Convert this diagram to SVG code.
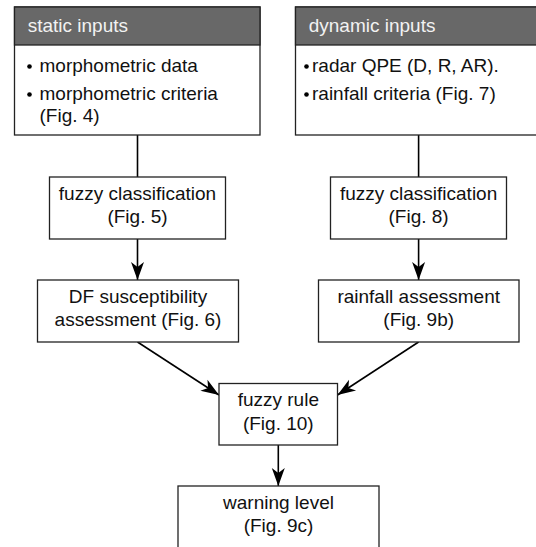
<svg xmlns="http://www.w3.org/2000/svg" width="536" height="547" viewBox="0 0 536 547">
<style>
.box{fill:#ffffff;stroke:#222;stroke-width:1.3}
.hdr{fill:#686868;stroke:#222;stroke-width:1.3}
.t{font-family:"Liberation Sans",Arial,Helvetica,sans-serif;font-size:19px;fill:#111}
.c{text-anchor:middle}
.h{font-family:"Liberation Sans",Arial,Helvetica,sans-serif;font-size:19px;fill:#f2f2f2}
.ln{stroke:#000;stroke-width:1.6;fill:none}
.b{fill:#000}
</style>
<defs>
<marker id="arr" markerUnits="userSpaceOnUse" markerWidth="20" markerHeight="16" viewBox="-19 -8 20 16" refX="0" refY="0" orient="auto">
<path d="M0,0 L-18,-6.5 L-13,0 L-18,6.5 Z" fill="#000"/>
</marker>
</defs>
<g id="connectors">
<line class="ln" x1="137.5" y1="135" x2="137.5" y2="177"/>
<line class="ln" x1="418.6" y1="135" x2="418.6" y2="177"/>
<line class="ln" x1="137.5" y1="239" x2="137.5" y2="280" marker-end="url(#arr)"/>
<line class="ln" x1="418.6" y1="239" x2="418.6" y2="280" marker-end="url(#arr)"/>
<line class="ln" x1="137.5" y1="342" x2="219" y2="395" marker-end="url(#arr)"/>
<line class="ln" x1="418.6" y1="342" x2="337.5" y2="395" marker-end="url(#arr)"/>
<line class="ln" x1="278.3" y1="445" x2="278.3" y2="486" marker-end="url(#arr)"/>
</g>
<g id="static-inputs">
<rect class="box" x="14.5" y="7" width="245.5" height="128"/>
<rect class="hdr" x="14.5" y="7" width="245.5" height="38"/>
<text class="h" x="27.7" y="32.3">static inputs</text>
<circle class="b" cx="29.5" cy="66.5" r="2.3"/>
<text class="t" x="39.5" y="72">morphometric data</text>
<circle class="b" cx="29.5" cy="94.5" r="2.3"/>
<text class="t" x="39.5" y="100">morphometric criteria</text>
<text class="t" x="39.5" y="121.5">(Fig. 4)</text>
</g>
<g id="dynamic-inputs">
<rect class="box" x="295.5" y="7" width="250" height="128"/>
<rect class="hdr" x="295.5" y="7" width="250" height="38"/>
<text class="h" x="308.7" y="32.3">dynamic inputs</text>
<circle class="b" cx="306.5" cy="66.5" r="2.3"/>
<text class="t" x="312" y="72">radar QPE (D, R, AR).</text>
<circle class="b" cx="306.5" cy="94.5" r="2.3"/>
<text class="t" x="312" y="100">rainfall criteria (Fig. 7)</text>
</g>
<g id="fuzzy-classification-static">
<rect class="box" x="49.5" y="177" width="176" height="62"/>
<text class="t c" x="137.5" y="199.5">fuzzy classification</text>
<text class="t c" x="137.5" y="223">(Fig. 5)</text>
</g>
<g id="fuzzy-classification-dynamic">
<rect class="box" x="330.5" y="177" width="176" height="62"/>
<text class="t c" x="418.6" y="199.5">fuzzy classification</text>
<text class="t c" x="418.6" y="223">(Fig. 8)</text>
</g>
<g id="df-susceptibility">
<rect class="box" x="37.5" y="280" width="201" height="62"/>
<text class="t c" x="138" y="302.5">DF susceptibility</text>
<text class="t c" x="138" y="326">assessment (Fig. 6)</text>
</g>
<g id="rainfall-assessment">
<rect class="box" x="318.5" y="280" width="200.5" height="62"/>
<text class="t c" x="418.7" y="302.5">rainfall assessment</text>
<text class="t c" x="418.7" y="326">(Fig. 9b)</text>
</g>
<g id="fuzzy-rule">
<rect class="box" x="219" y="383.5" width="118.5" height="61.5"/>
<text class="t c" x="278.3" y="406">fuzzy rule</text>
<text class="t c" x="278.3" y="429.5">(Fig. 10)</text>
</g>
<g id="warning-level">
<rect class="box" x="178" y="486" width="201" height="62"/>
<text class="t c" x="278.5" y="508.5">warning level</text>
<text class="t c" x="278.5" y="532">(Fig. 9c)</text>
</g>
</svg>
